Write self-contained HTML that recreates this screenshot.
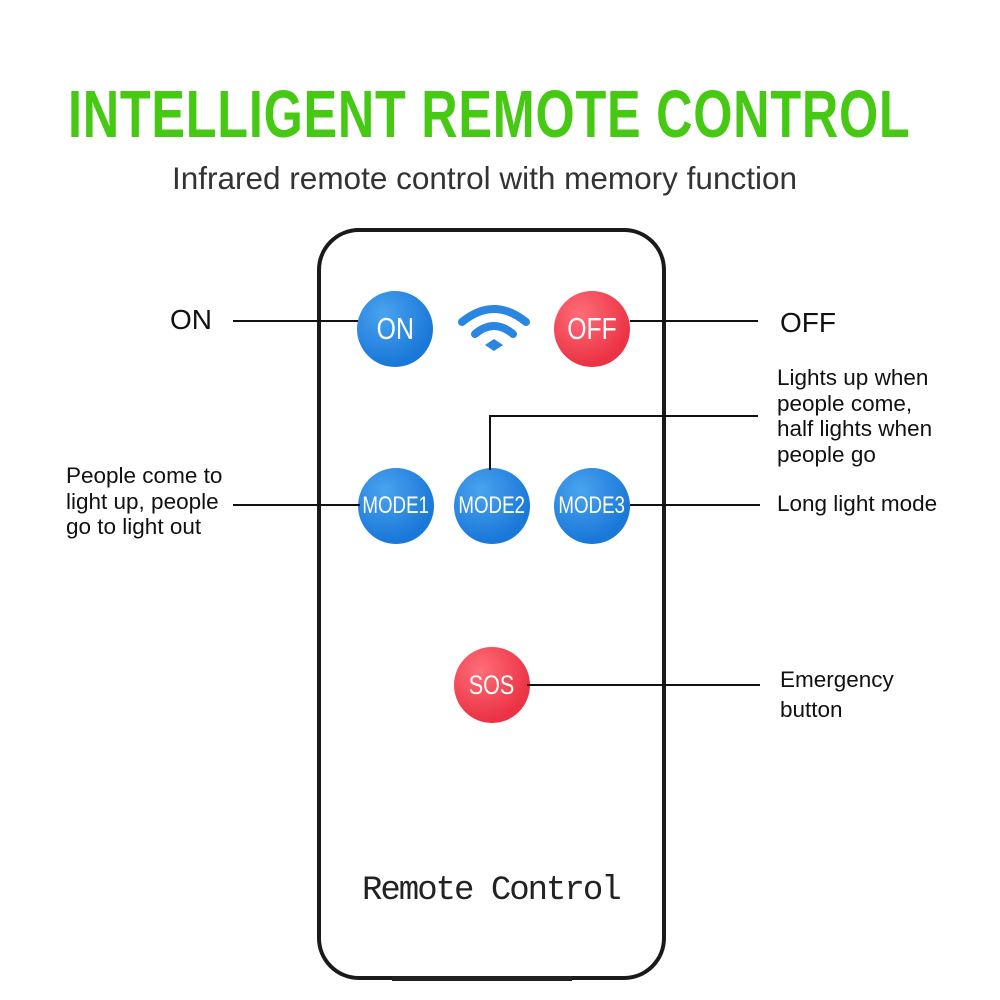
<!DOCTYPE html>
<html><head><style>
body{margin:0;width:1000px;height:1000px;background:#fff;position:relative;overflow:hidden;font-family:"Liberation Sans",sans-serif}
.t{position:absolute;white-space:nowrap;color:#111}
#title{left:68px;top:76px;font-size:67px;font-weight:bold;color:#46c912;transform-origin:0 0;transform:scaleX(0.752);letter-spacing:1px}
.b{position:absolute;border-radius:50%;color:#fff;display:flex;align-items:center;justify-content:center}
.b span{display:inline-block;transform:scaleX(0.8)}
.blue{background:radial-gradient(circle at 35% 30%,#4aa3ef,#1a78d8 70%)}
.red{background:radial-gradient(circle at 35% 30%,#ff6d78,#eb3345 70%)}
.l{position:absolute;background:#111}
.s{font-size:22.5px;line-height:25.7px}
</style></head><body>
<div class="t" id="title">INTELLIGENT REMOTE CONTROL</div>
<div class="t" style="left:172px;top:160px;font-size:31.5px;color:#333">Infrared remote control with memory function</div>

<div style="position:absolute;left:317px;top:228px;width:341px;height:744px;border:4px solid #1a1a1a;border-radius:42px;background:#fff"></div>
<div style="position:absolute;left:392px;top:976px;width:180px;height:5px;background:#222"></div>

<div class="b blue" style="left:357px;top:291px;width:76px;height:76px;font-size:31px"><span>ON</span></div>
<div class="b red" style="left:554px;top:291px;width:76px;height:76px;font-size:31px"><span>OFF</span></div>
<div class="b blue" style="left:358px;top:468px;width:76px;height:76px;font-size:24px"><span style="transform:scaleX(0.78)">MODE1</span></div>
<div class="b blue" style="left:454px;top:468px;width:76px;height:76px;font-size:24px"><span style="transform:scaleX(0.78)">MODE2</span></div>
<div class="b blue" style="left:554px;top:468px;width:76px;height:76px;font-size:24px"><span style="transform:scaleX(0.78)">MODE3</span></div>
<div class="b red" style="left:454px;top:647px;width:76px;height:76px;font-size:27px"><span>SOS</span></div>

<svg style="position:absolute;left:458px;top:302px" width="72" height="50" viewBox="0 0 72 50">
<path d="M4 20 Q36 -6 68 20" stroke="#2a86e0" stroke-width="8" fill="none" stroke-linecap="round"/>
<path d="M17 32 Q36 16 55 32" stroke="#2a86e0" stroke-width="8" fill="none" stroke-linecap="round"/>
<path d="M27 43 L36 37 L45 43 L36 49 Z" fill="#2a86e0"/>
</svg>

<div class="l" style="left:233px;top:320px;width:125px;height:2px"></div>
<div class="l" style="left:630px;top:320px;width:128px;height:2px"></div>
<div class="l" style="left:233px;top:504px;width:127px;height:2px"></div>
<div class="l" style="left:489px;top:415px;width:2px;height:55px"></div>
<div class="l" style="left:489px;top:415px;width:269px;height:2px"></div>
<div class="l" style="left:630px;top:504px;width:130px;height:2px"></div>
<div class="l" style="left:527px;top:684px;width:233px;height:2px"></div>

<div class="t" style="left:170px;top:304px;font-size:28px">ON</div>
<div class="t" style="left:780px;top:307px;font-size:28px">OFF</div>
<div class="t s" style="left:777px;top:365px">Lights up when<br>people come,<br>half lights when<br>people go</div>
<div class="t s" style="left:66px;top:463px">People come to<br>light up, people<br>go to light out</div>
<div class="t s" style="left:777px;top:491px">Long light mode</div>
<div class="t s" style="left:780px;top:665px;line-height:30px">Emergency<br>button</div>
<div class="t" style="left:362px;top:872px;font-size:34px;font-family:'Liberation Mono',monospace;color:#222;letter-spacing:-2px">Remote Control</div>
</body></html>
